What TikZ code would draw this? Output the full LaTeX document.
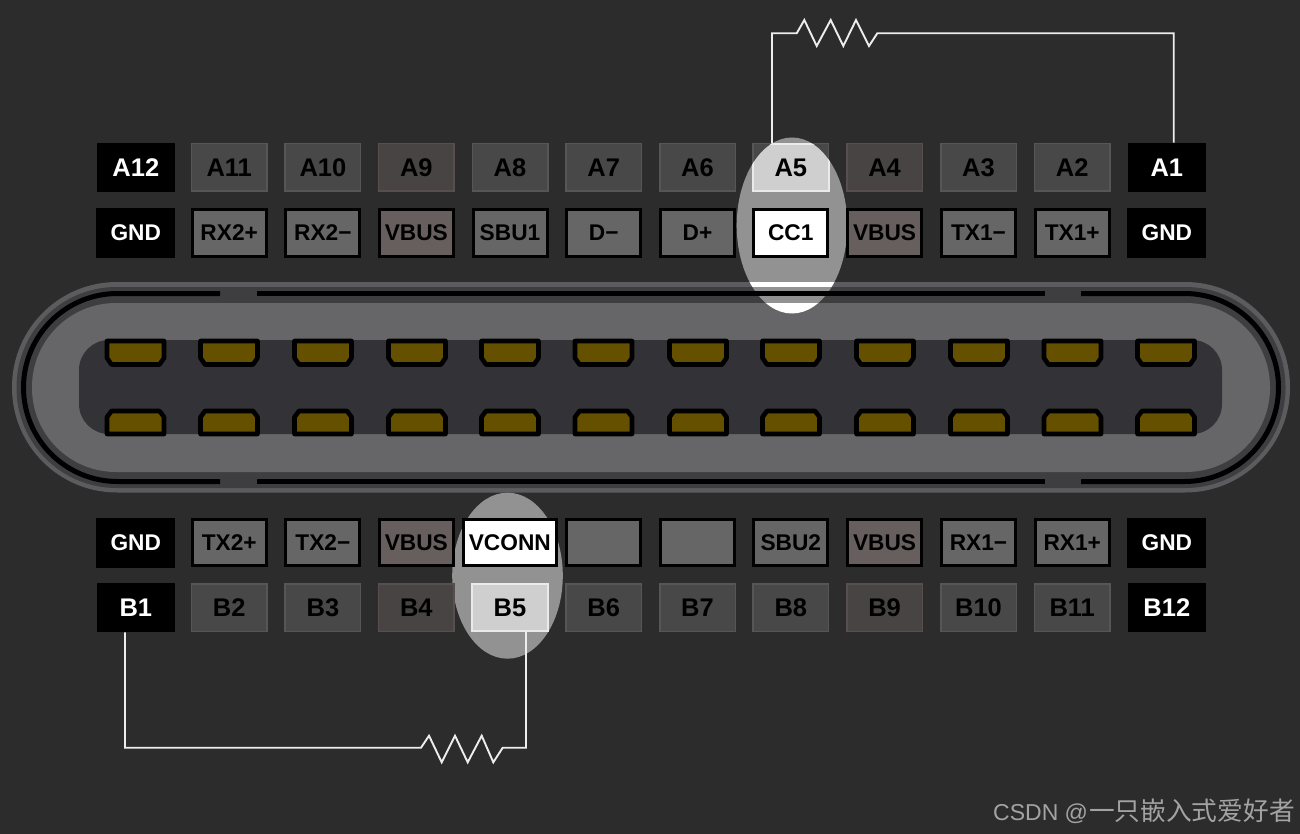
\documentclass[tikz,border=0pt]{standalone}
\usepackage{fontspec}
\setmainfont{Liberation Sans}
\newfontfamily\cjk{Noto Sans CJK SC}
\definecolor{bgc}{HTML}{2C2C2C}
\definecolor{ringo}{HTML}{5C5C5E}
\definecolor{ringi}{HTML}{3E3E40}
\definecolor{bodyc}{HTML}{666668}
\definecolor{cavc}{HTML}{333337}
\definecolor{gold}{HTML}{655000}
\definecolor{halo}{HTML}{929292}
\definecolor{dimc}{HTML}{484848}
\definecolor{dimb}{HTML}{565656}
\definecolor{dimrc}{HTML}{494444}
\definecolor{dimrb}{HTML}{584E4E}
\definecolor{sigc}{HTML}{666666}
\definecolor{sigrc}{HTML}{675E5E}
\definecolor{wirec}{HTML}{EDEDED}
\definecolor{litc}{HTML}{CFCFCF}
\definecolor{litb}{HTML}{EAEAEA}
\definecolor{wm}{HTML}{A3A3A3}
\tikzset{
  x=1pt,y=-1pt,
  pinbase/.style={rectangle,inner sep=0pt,outer sep=0pt,minimum width=75.5pt,minimum height=47.5pt,font=\fontsize{25.5}{26}\selectfont\bfseries},
  dimg/.style={pinbase,fill=dimc,draw=dimb,line width=1.5pt},
  dimr/.style={pinbase,fill=dimrc,draw=dimrb,line width=1.5pt},
  blk/.style={pinbase,fill=black,text=white,minimum width=78pt,minimum height=49.5pt},
  lit/.style={pinbase},
  sigbase/.style={rectangle,inner sep=0pt,outer sep=0pt,minimum width=74pt,minimum height=46.5pt,line width=3pt,draw=black,font=\fontsize{22.7}{23}\selectfont\bfseries},
  sigg/.style={sigbase,fill=sigc},
  sigr/.style={sigbase,fill=sigrc},
  sigw/.style={sigbase,fill=white},
  sigk/.style={sigbase,draw=none,fill=black,text=white,minimum width=79pt,minimum height=50pt},
  wire/.style={draw=wirec,line width=1.9pt,line join=miter},
  slot/.style={line width=5pt,draw=black},
  pinmetal/.style={fill=gold,draw=black,line width=4.6pt,line join=round},
}
\begin{document}
\begin{tikzpicture}
\useasboundingbox (0,0) rectangle (1300,834);
\fill[bgc] (0,0) rectangle (1300,834);
% connector shell
\fill[ringo,rounded corners=105pt] (12,282) rectangle (1290,492.5);
\fill[ringi,rounded corners=100pt] (16.5,287) rectangle (1285.5,488);
% highlights
\fill[halo] (792,225.5) ellipse [x radius=55.3,y radius=88];
\fill[halo] (507.5,575.7) ellipse [x radius=55.3,y radius=83];
\fill[bodyc,rounded corners=84pt] (32,303) rectangle (1270,472);
\fill[cavc,rounded corners=30pt] (79,340) rectangle (1222,434);
\begin{scope}
  \clip (792,225.5) ellipse [x radius=55.3,y radius=88];
  \fill[white] (730,282) rectangle (855,287);
  \fill[white] (730,303) rectangle (855,320);
\end{scope}
% slot lines
\draw[slot,rounded corners=94pt] (220,293.5) -- (23.5,293.5) -- (23.5,481.5) -- (220,481.5);
\draw[slot,rounded corners=94pt] (1081,293.5) -- (1278.5,293.5) -- (1278.5,481.5) -- (1081,481.5);
\draw[slot] (257,293.5) -- (1045,293.5);
\draw[slot] (257,481.5) -- (1045,481.5);
% contacts
\foreach \cx in {135.5,229,323,417,510,603.5,698,791,885,979,1072.5,1166}{
  \draw[pinmetal] (\cx-28.5,341) -- (\cx+28.5,341) -- (\cx+28.5,358) -- (\cx+24,364.5) -- (\cx-24,364.5) -- (\cx-28.5,358) -- cycle;
  \draw[pinmetal] (\cx-28.5,434) -- (\cx+28.5,434) -- (\cx+28.5,417) -- (\cx+24,411) -- (\cx-24,411) -- (\cx-28.5,417) -- cycle;
}
% top pin row
\foreach \nm/\cx/\st/\lb in {A12/135.8/blk/A12,A11/229.2/dimg/A11,A10/322.9/dimg/A10,A9/416.3/dimr/A9,A8/510/dimg/A8,A7/603.7/dimg/A7,A6/697.5/dimg/A6,A4/884.6/dimr/A4,A3/978.5/dimg/A3,A2/1072.2/dimg/A2,A1/1166.8/blk/A1}{
  \node[\st] (\nm) at (\cx,167.5) {\lb};
}
% second row
\foreach \nm/\cx/\st/\lb in {sA12/135.8/sigk/GND,sA11/229.2/sigg/RX2+,sA10/322.9/sigg/RX2−,sA9/416.3/sigr/VBUS,sA8/510/sigg/SBU1,sA7/603.7/sigg/D−,sA6/697.5/sigg/D+,sA5/790.8/sigw/CC1,sA4/884.6/sigr/VBUS,sA3/978.5/sigg/TX1−,sA2/1072.2/sigg/TX1+,sA1/1166.8/sigk/GND}{
  \node[\st] (\nm) at (\cx,233) {\lb};
}
% third row
\foreach \nm/\cx/\st/\lb in {sB1/135.8/sigk/GND,sB2/229.2/sigg/TX2+,sB3/322.9/sigg/TX2−,sB4/416.3/sigr/VBUS,sB6/603.7/sigg/,sB7/697.5/sigg/,sB8/790.8/sigg/SBU2,sB9/884.6/sigr/VBUS,sB10/978.5/sigg/RX1−,sB11/1072.2/sigg/RX1+,sB12/1166.8/sigk/GND}{
  \node[\st] (\nm) at (\cx,542.5) {\lb};
}
\node[sigw,minimum width=92.5pt] (sB5) at (509.8,542.5) {VCONN};
% bottom pin row
\foreach \nm/\cx/\st/\lb in {B1/135.8/blk/B1,B2/229.2/dimg/B2,B3/322.9/dimg/B3,B4/416.3/dimr/B4,B6/603.7/dimg/B6,B7/697.5/dimg/B7,B8/790.8/dimg/B8,B9/884.6/dimr/B9,B10/978.5/dimg/B10,B11/1072.2/dimg/B11,B12/1166.8/blk/B12}{
  \node[\st] (\nm) at (\cx,607.5) {\lb};
}
% highlighted pins: dim outside the halo, light inside
\filldraw[fill=dimc,draw=dimb,line width=1.5pt] (753,143.7) rectangle (828.6,191.3);
\begin{scope}
  \clip (792,225.5) ellipse [x radius=55.3,y radius=88];
  \filldraw[fill=litc,draw=litb,line width=2pt] (753,143.7) rectangle (828.6,191.3);
\end{scope}
\node[lit] (A5) at (790.8,167.5) {A5};
\filldraw[fill=litc,draw=litb,line width=2pt] (472.2,583.7) rectangle (547.8,631.3);
\node[lit] (B5) at (510,607.5) {B5};
% resistor connectors
\coordinate (r1l) at (796.7,33.3);
\coordinate (r1r) at (877.3,33.3);
\draw[wire] ([xshift=-18.8pt]A5.north) |- (r1l) -- (804.3,20) -- (816.7,46) -- (830.7,20) -- (843.3,46) -- (856,20) -- (869,46) -- (r1r) -| ([xshift=6.9pt]A1.north);
\coordinate (r2r) at (502.7,747.7);
\coordinate (r2l) at (421,747.7);
\draw[wire] ([xshift=16pt]B5.south) |- (r2r) -- (493.3,762.3) -- (481.7,735.7) -- (467.7,762.3) -- (455,735.7) -- (441.7,762.3) -- (429,735.7) -- (r2l) -| ([xshift=-10.8pt]B1.south);
% watermark
\node[anchor=base west,inner sep=0pt,text=wm,font=\fontsize{23}{24}\selectfont] (mark) at (993,820) {CSDN @\hspace{1pt}{\cjk\fontsize{25.7}{26}\selectfont 一只嵌入式爱好者}};
\end{tikzpicture}
\end{document}
